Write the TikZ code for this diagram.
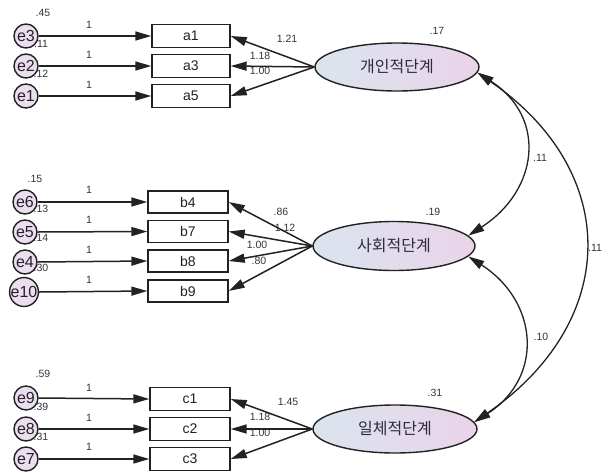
\documentclass[tikz,border=0pt]{standalone}
\usepackage{fontspec}
\setmainfont{Liberation Sans}
\newfontfamily\kor{Noto Sans CJK KR}
\usetikzlibrary{arrows.meta,shapes.geometric}
\definecolor{ink}{HTML}{222222}
\definecolor{numc}{HTML}{33333D}
\definecolor{errfill}{HTML}{ECDDF0}
\definecolor{latL}{HTML}{DAE5EE}
\definecolor{latR}{HTML}{EAD3E9}
\definecolor{kortext}{HTML}{2A2A40}
\begin{document}
\begin{tikzpicture}[x=1pt,y=-1pt,
  obs/.style={draw=ink, line width=1.4pt, minimum width=78pt, minimum height=23pt, inner sep=0pt, fill=white, font=\fontsize{14}{14}\selectfont, text=ink},
  err/.style={circle, draw=ink, line width=1.4pt, fill=errfill, minimum size=24pt, inner sep=0pt, font=\fontsize{16}{16}\selectfont, text=ink},
  lat/.style={ellipse, draw=ink, line width=1.4pt, left color=latL, right color=latR, minimum width=164pt, minimum height=48pt, inner sep=0pt, font=\kor\fontsize{16}{16}\selectfont, text=kortext},
  num/.style={font=\fontsize{10.5}{10.5}\selectfont, text=numc, inner sep=0pt},
  arr/.style={draw=ink, line width=1.5pt, -{Triangle[length=16pt,width=9pt]}},
  cov/.style={draw=ink, line width=1.3pt, {Triangle[length=16pt,width=9pt]}-{Triangle[length=16pt,width=9pt]}}
]
\useasboundingbox[fill=white] (0,0) rectangle (611,472);

% labels partly hidden by the error circles
\node[num] (v11) at (41,44) {.11};
\node[num] (v12) at (41,74) {.12};
\node[num] (v13) at (41,209) {.13};
\node[num] (v14) at (41,238) {.14};
\node[num] (v30) at (41,268) {.30};
\node[num] (v39) at (41,407) {.39};
\node[num] (v31) at (41,437) {.31};

% group A
\node[err] (e3) at (26,36) {e3};
\node[err] (e2) at (26,66) {e2};
\node[err] (e1) at (26,96) {e1};
\node[obs] (a1) at (191,36) {a1};
\node[obs] (a3) at (191,66) {a3};
\node[obs] (a5) at (191,96) {a5};
\node[lat] (A) at (397,67) {개인적단계};

% group B
\node[err] (e6) at (25,202) {e6};
\node[err] (e5) at (25,232) {e5};
\node[err] (e4) at (25,262) {e4};
\node[err] (e10) at (24,292) {e10};
\node[obs, minimum width=80pt, minimum height=22pt] (b4) at (188,202) {b4};
\node[obs, minimum width=80pt, minimum height=22pt] (b7) at (188,231.5) {b7};
\node[obs, minimum width=80pt, minimum height=22pt] (b8) at (188,261) {b8};
\node[obs, minimum width=80pt, minimum height=22pt] (b9) at (188,291) {b9};
\node[lat, minimum width=162pt, minimum height=49pt] (B) at (394,246) {사회적단계};

% group C
\node[err] (e9) at (26,398) {e9};
\node[err] (e8) at (26,429) {e8};
\node[err] (e7) at (26,459) {e7};
\node[obs, minimum width=80pt] (c1) at (190,399) {c1};
\node[obs, minimum width=80pt] (c2) at (190,429) {c2};
\node[obs, minimum width=80pt] (c3) at (190,459) {c3};
\node[lat] (C) at (395,429) {일체적단계};

% error paths
\foreach \e/\o in {e3/a1,e2/a3,e1/a5,e6/b4,e5/b7,e4/b8,e10/b9,e9/c1,e8/c2,e7/c3}
  \draw[arr] (\e.east) -- (\o.west);

% loadings
\foreach \o in {a1,a3,a5} \draw[arr] (A.west) -- (\o.east);
\foreach \o in {b4,b7,b8,b9} \draw[arr] (B.west) -- (\o.east);
\foreach \o in {c1,c2,c3} \draw[arr] (C.west) -- (\o.east);

% covariances
\draw[cov] (A.-4) .. controls +(70,45) and +(70,-45) .. (B.8);
\draw[cov] (B.-8) .. controls +(70,45) and +(70,-45) .. (C.5);
\draw[cov] (A.-4) .. controls +(145,100) and +(145,-100) .. (C.5);

% variance labels
\node[num] (v45) at (43,13) {.45};
\node[num] (v15) at (35,179) {.15};
\node[num] (v59) at (43,374) {.59};
\node[num] (v17) at (437,31) {.17};
\node[num] (v19) at (433,212) {.19};
\node[num] (v31b) at (435,393) {.31};

% fixed paths
\foreach \y [count=\i] in {25,55,85,190,220,250,280,388,418,447}
  \node[num] (one\i) at (89,\y) {1};

% loading labels
\node[num] (la1) at (287,39) {1.21};
\node[num] (la2) at (260,56) {1.18};
\node[num] (la3) at (260,71) {1.00};
\node[num] (lb1) at (281,212) {.86};
\node[num] (lb2) at (285,228) {1.12};
\node[num] (lb3) at (257,245) {1.00};
\node[num] (lb4) at (259,261) {.80};
\node[num] (lc1) at (288,402) {1.45};
\node[num] (lc2) at (260,417) {1.18};
\node[num] (lc3) at (260,433) {1.00};

% covariance labels
\node[num] (cab) at (540,158) {.11};
\node[num] (cbc) at (541,337) {.10};
\node[num] (cac) at (595,248) {.11};
\end{tikzpicture}
\end{document}
